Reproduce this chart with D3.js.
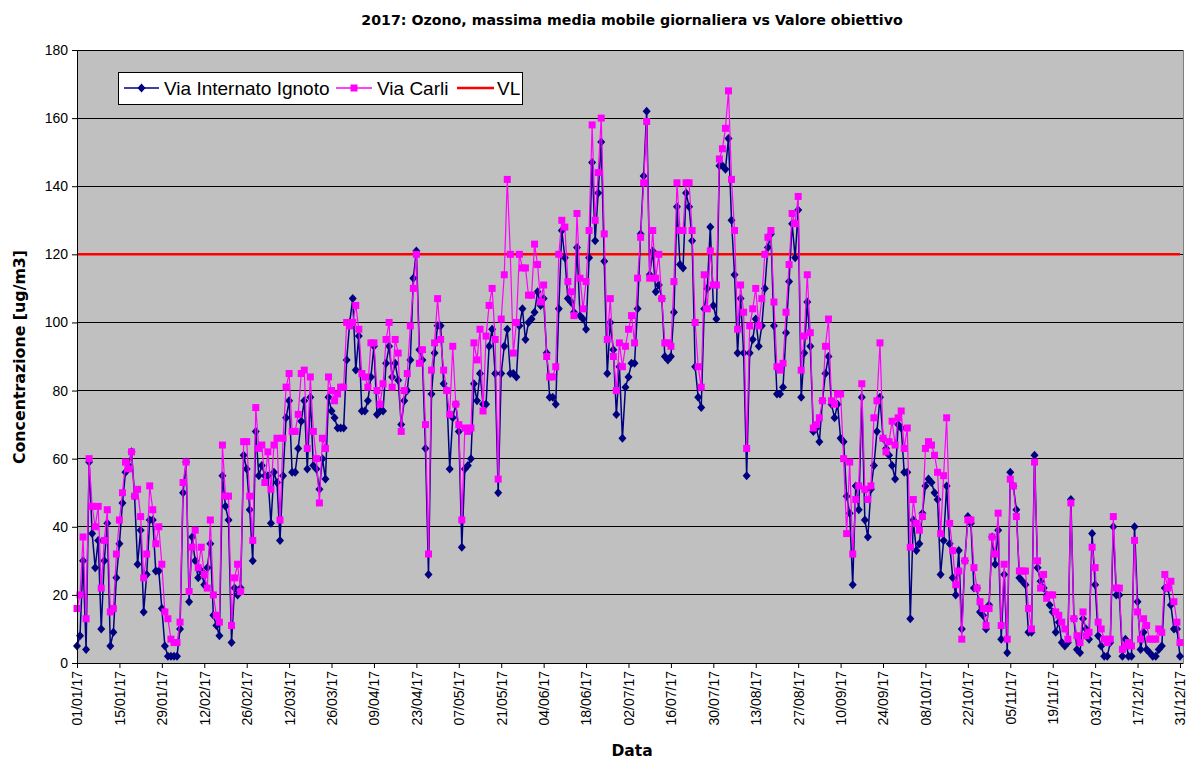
<!DOCTYPE html>
<html><head><meta charset="utf-8">
<script src="https://cdn.jsdelivr.net/npm/d3@7"></script>
<style>body{margin:0;background:#fff}</style>
</head><body><svg id="c" width="1188" height="762"></svg>
<script>
const title = "2017: Ozono, massima media mobile giornaliera vs Valore obiettivo";
const yTitle = "Concentrazione [ug/m3]";
const xTitle = "Data";
const startDate = "2017-01-01";
const seriesNames = ["Via Internato Ignoto", "Via Carli", "VL"];
const viaInternatoIgnoto = [
5,8,30,4,59,38,28,36,10,30,
41,5,9,25,35,47,56,58,62,49,
29,39,15,26,42,42,27,27,16,5,
2,2,2,2,10,50,59,18,37,30,
25,27,23,28,35,14,11,8,55,46,
42,6,22,20,22,61,57,45,30,68,
55,58,55,55,41,56,53,36,55,72,
77,56,56,63,71,77,57,78,58,57,
51,60,54,78,74,72,69,69,69,89,
100,107,86,96,74,74,77,84,93,73,
74,74,88,93,84,88,83,70,77,80,
89,113,121,92,89,63,26,79,91,99,
99,82,80,57,72,76,68,34,57,58,
60,82,77,85,76,76,93,98,85,50,
85,93,98,85,85,84,99,104,95,100,
101,103,109,105,107,91,78,78,76,104,
127,119,107,106,103,122,102,101,98,119,
147,124,138,153,118,85,100,92,73,87,
66,81,84,88,88,104,126,143,162,114,
121,109,111,107,90,89,90,103,134,117,
116,138,134,124,87,78,75,104,110,128,
105,101,146,146,145,154,130,114,91,107,
91,55,91,95,101,93,99,110,122,126,
99,79,79,81,97,112,129,119,133,78,
91,106,93,68,69,65,77,85,90,76,
72,76,66,65,49,44,23,52,45,78,
42,37,51,58,68,78,66,63,61,58,
54,70,69,56,56,13,42,33,35,44,
52,54,53,50,48,26,36,52,35,25,
20,33,10,30,43,41,22,22,15,14,
10,17,37,29,39,7,26,3,56,52,
45,25,24,23,9,9,61,28,24,22,
20,17,15,9,12,6,5,6,48,13,
4,3,13,10,7,38,23,8,5,2,
2,6,40,20,20,2,7,2,2,40,
18,4,9,4,3,2,2,4,5,22,
22,17,10,10,2];
const viaCarli = [
16,20,37,13,60,46,40,46,22,36,
45,15,16,32,42,50,59,57,62,49,
51,43,25,32,52,45,35,40,29,15,
13,7,6,6,12,53,59,21,34,39,
28,34,26,22,42,20,14,12,64,49,
49,11,25,29,21,65,65,49,36,75,
63,64,53,62,51,64,66,42,66,81,
85,68,68,73,85,86,63,84,68,60,
47,66,63,84,80,77,79,81,81,100,
99,100,105,98,85,84,81,94,94,80,
76,82,95,100,81,95,91,68,80,85,
99,110,120,88,92,70,32,86,94,107,
95,86,80,73,93,76,70,42,69,68,
69,94,89,98,74,96,105,110,95,54,
101,114,142,120,91,100,120,116,116,108,
108,123,117,106,111,90,84,84,87,120,
130,128,112,109,102,132,113,104,112,127,
158,130,144,160,126,95,107,90,80,94,
87,93,98,102,94,113,125,141,159,113,
127,113,120,107,94,94,93,112,141,127,
127,141,141,127,100,87,81,114,104,121,
111,111,148,151,157,168,142,127,98,111,
103,63,99,104,110,99,107,120,125,127,
106,87,86,88,103,117,132,129,137,86,
96,114,97,69,70,72,77,93,101,77,
76,79,79,60,38,59,32,48,52,82,
51,48,52,72,77,94,66,62,65,71,
64,72,74,63,69,34,48,41,39,43,
63,65,64,61,56,38,55,72,41,33,
23,27,7,30,42,42,28,22,18,16,
11,16,37,32,44,11,29,7,54,52,
43,27,27,27,16,10,59,30,22,26,
19,20,20,15,14,12,10,7,47,13,
8,6,15,8,9,34,28,12,10,7,
6,7,43,22,22,4,5,6,5,36,
15,7,13,11,7,7,7,10,9,26,
22,24,18,12,6];
const valoreLimite = 120;
const yTicks = [0,20,40,60,80,100,120,140,160,180];
const xTickLabels = ["01/01/17","15/01/17","29/01/17","12/02/17","26/02/17","12/03/17","26/03/17",
 "09/04/17","23/04/17","07/05/17","21/05/17","04/06/17","18/06/17","02/07/17","16/07/17",
 "30/07/17","13/08/17","27/08/17","10/09/17","24/09/17","08/10/17","22/10/17","05/11/17",
 "19/11/17","03/12/17","17/12/17","31/12/17"];

const svg = d3.select("#c");
const W = 1188, H = 762;
const L = 77, R = 1183, T = 50, B = 663;
const parseTick = d3.timeParse("%d/%m/%y");
const start = d3.timeParse("%Y-%m-%d")(startDate);
const dates = viaInternatoIgnoto.map((_, i) => d3.timeDay.offset(start, i));
const x = d3.scaleTime().domain([start, d3.timeDay.offset(start, 365)]).range([L, R]);
const y = d3.scaleLinear().domain([0, 180]).range([B, T]);
const font = "'Liberation Sans', Arial, sans-serif";

svg.append("rect").attr("width", W).attr("height", H).attr("fill", "#fff");
svg.append("rect").attr("x", L).attr("y", T).attr("width", R - L).attr("height", B - T).attr("fill", "#C0C0C0");

// gridlines
svg.append("g").selectAll("line").data(yTicks.filter(v => v > 0)).join("line")
  .attr("x1", L).attr("x2", R).attr("y1", d => y(d)).attr("y2", d => y(d))
  .attr("stroke", "#000").attr("stroke-width", 1).attr("shape-rendering", "crispEdges");
svg.append("line").attr("x1", R).attr("x2", R).attr("y1", T).attr("y2", B)
  .attr("stroke", "#808080").attr("shape-rendering", "crispEdges");

// VL
svg.append("line").attr("x1", x(start)).attr("x2", x(dates[dates.length - 1]))
  .attr("y1", y(valoreLimite)).attr("y2", y(valoreLimite))
  .attr("stroke", "#FF0000").attr("stroke-width", 2.5);

const line = d3.line().x((d, i) => x(dates[i])).y(d => y(d));
const diamond = "M0,-4.5L4,0L0,4.5L-4,0Z";

// series 1
svg.append("path").datum(viaInternatoIgnoto).attr("d", line)
  .attr("fill", "none").attr("stroke", "#000080").attr("stroke-width", 1.5);
svg.append("g").selectAll("path").data(viaInternatoIgnoto).join("path")
  .attr("d", diamond).attr("transform", (d, i) => `translate(${x(dates[i])},${y(d)})`)
  .attr("fill", "#000080");
// series 2
svg.append("path").datum(viaCarli).attr("d", line)
  .attr("fill", "none").attr("stroke", "#FF00FF").attr("stroke-width", 1.2);
svg.append("g").selectAll("rect").data(viaCarli).join("rect")
  .attr("x", (d, i) => x(dates[i]) - 3.5).attr("y", d => y(d) - 3.5)
  .attr("width", 7).attr("height", 7).attr("fill", "#FF00FF");

// axes
const ya = svg.append("g").attr("transform", `translate(${L},0)`)
  .call(d3.axisLeft(y).tickValues(yTicks).tickSize(5).tickPadding(4));
ya.selectAll("text").style("font-family", font).style("font-size", "14px").attr("fill", "#000");
ya.selectAll("line,path").attr("stroke", "#000");

const xa = svg.append("g").attr("transform", `translate(0,${B})`)
  .call(d3.axisBottom(x).tickValues(xTickLabels.map(parseTick)).tickFormat(d3.timeFormat("%d/%m/%y")).tickSize(5).tickSizeOuter(0));
xa.selectAll("text").style("font-family", font).style("font-size", "14px").attr("fill", "#000")
  .attr("x", -8).attr("y", 0).attr("dy", "0.35em").attr("transform", "rotate(-90)").style("text-anchor", "end");
xa.selectAll("line,path").attr("stroke", "#000");

// titles
svg.append("text").attr("x", 632).attr("y", 25).attr("text-anchor", "middle")
  .style("font-family", "'DejaVu Sans', sans-serif").style("font-weight", "bold").style("font-size", "14.2px").text(title);
svg.append("text").attr("transform", "translate(25,357) rotate(-90)").attr("text-anchor", "middle")
  .style("font-family", "'DejaVu Sans', sans-serif").style("font-weight", "bold").style("font-size", "15.8px").text(yTitle);
svg.append("text").attr("x", 632).attr("y", 756).attr("text-anchor", "middle")
  .style("font-family", "'DejaVu Sans', sans-serif").style("font-weight", "bold").style("font-size", "15.5px").text(xTitle);

// legend
const lg = svg.append("g");
lg.append("rect").attr("x", 118).attr("y", 72).attr("width", 404).attr("height", 32)
  .attr("fill", "#fff").attr("stroke", "#000").attr("stroke-width", 1).attr("shape-rendering", "crispEdges");
const ly = 88;
const items = [
  {name: seriesNames[0], color: "#000080", x0: 124, x1: 159, tx: 164, mark: "d"},
  {name: seriesNames[1], color: "#FF00FF", x0: 336, x1: 372, tx: 377, mark: "s"},
  {name: seriesNames[2], color: "#FF0000", x0: 457, x1: 494, tx: 497, mark: null}
];
items.forEach(it => {
  lg.append("line").attr("x1", it.x0).attr("x2", it.x1).attr("y1", ly).attr("y2", ly)
    .attr("stroke", it.color).attr("stroke-width", it.mark ? 1.5 : 2.5);
  const cx = (it.x0 + it.x1) / 2;
  if (it.mark === "d") lg.append("path").attr("d", diamond).attr("transform", `translate(${cx},${ly})`).attr("fill", it.color);
  if (it.mark === "s") lg.append("rect").attr("x", cx - 3.5).attr("y", ly - 3.5).attr("width", 7).attr("height", 7).attr("fill", it.color);
  lg.append("text").attr("x", it.tx).attr("y", ly).attr("dy", "0.36em")
    .style("font-family", font).style("font-size", "19px").text(it.name);
});
</script></body></html>
